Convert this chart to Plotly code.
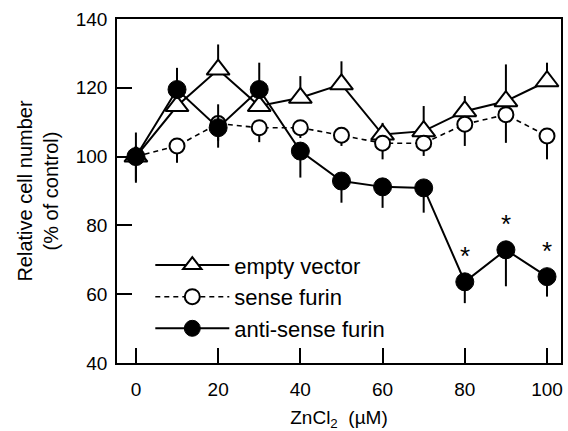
import plotly.graph_objects as go

# ---- data ----
zncl2_uM = [0, 10, 20, 30, 40, 50, 60, 70, 80, 90, 100]

empty_vector = [100, 114.7, 125.3, 114.7, 117.1, 121.0, 106.4, 107.4, 113.2, 116.1, 121.9]
empty_err_up = [7.0, 5.0, 7.3, 5.0, 6.3, 6.7, 3.4, 7.3, 4.4, 10.7, 5.4]
empty_err_dn = [0, 0, 0, 0, 0, 0, 0, 0, 0, 0, 0]

sense_furin = [100, 103.1, 109.6, 108.4, 108.4, 106.2, 103.9, 103.9, 109.4, 112.2, 106.0]
sense_err_up = [0, 0, 0, 0, 0, 0, 0, 0, 0, 0, 0]
sense_err_dn = [7.0, 4.9, 5.0, 4.2, 3.0, 3.1, 4.7, 3.7, 6.3, 8.2, 6.8]

antisense_furin = [100, 119.5, 108.4, 119.5, 101.6, 92.9, 91.2, 90.9, 63.6, 72.9, 65.1]
antisense_err_up = [0, 6.3, 6.8, 7.8, 0, 0, 0, 0, 0, 0, 0]
antisense_err_dn = [7.6, 0, 5.8, 0, 7.7, 6.3, 6.1, 7.2, 6.2, 10.6, 5.8]

significant_x = [80, 90, 100]

x_ticks = [0, 20, 40, 60, 80, 100]
y_ticks = [40, 60, 80, 100, 120, 140]

FONT = "Liberation Sans, Arial, Helvetica, sans-serif"


def err(up, dn):
    return dict(type="data", symmetric=False, array=up, arrayminus=dn,
                width=0, thickness=2, color="black")


fig = go.Figure()
fig.add_trace(go.Scatter(
    x=zncl2_uM, y=empty_vector, name="empty vector", mode="lines+markers",
    line=dict(color="black", width=2),
    marker=dict(symbol="triangle-up", size=20, color="white",
                line=dict(color="black", width=2)),
    error_y=err(empty_err_up, empty_err_dn)))
fig.add_trace(go.Scatter(
    x=zncl2_uM, y=sense_furin, name="sense furin", mode="lines+markers",
    line=dict(color="black", width=1.6, dash="5px,4px"),
    marker=dict(symbol="circle", size=15, color="white",
                line=dict(color="black", width=2)),
    error_y=err(sense_err_up, sense_err_dn)))
fig.add_trace(go.Scatter(
    x=zncl2_uM, y=antisense_furin, name="anti-sense furin", mode="lines+markers",
    line=dict(color="black", width=2),
    marker=dict(symbol="circle", size=18, color="black",
                line=dict(color="black", width=1)),
    error_y=err(antisense_err_up, antisense_err_dn)))

for sx in significant_x:
    sy = antisense_furin[zncl2_uM.index(sx)]
    fig.add_annotation(x=sx, y=sy, text="*", showarrow=False, yshift=26,
                       font=dict(family=FONT, size=26, color="black"))

axis_common = dict(showline=True, linecolor="black", linewidth=1.5, mirror=True,
                   ticks="inside", ticklen=15, tickwidth=1.5, tickcolor="black",
                   showgrid=False, zeroline=False,
                   tickfont=dict(family=FONT, size=19, color="black"))

fig.update_layout(
    width=568, height=431,
    margin=dict(l=117, r=5, t=19, b=68),
    paper_bgcolor="white", plot_bgcolor="white",
    font=dict(family=FONT, size=19, color="black"),
    xaxis=dict(range=[-4.6, 103.4], tickvals=x_ticks, ticklabelstandoff=8,
               title=dict(text="ZnCl<sub>2</sub>  (\u00b5M)", standoff=13,
                          font=dict(family=FONT, size=19)),
               **axis_common),
    yaxis=dict(range=[40, 140], tickvals=y_ticks, ticklabelstandoff=4,
               title=dict(text="Relative cell number<br>(% of control)", standoff=12,
                          font=dict(family=FONT, size=20)),
               **axis_common),
    showlegend=True,
    legend=dict(x=0.075, y=0.345, xanchor="left", yanchor="top",
                bgcolor="rgba(0,0,0,0)", itemwidth=74, tracegroupgap=0,
                font=dict(family=FONT, size=22, color="black")),
)

fig.write_html("out.html", config={"displayModeBar": False},
               post_script="document.body.style.margin='0';")
